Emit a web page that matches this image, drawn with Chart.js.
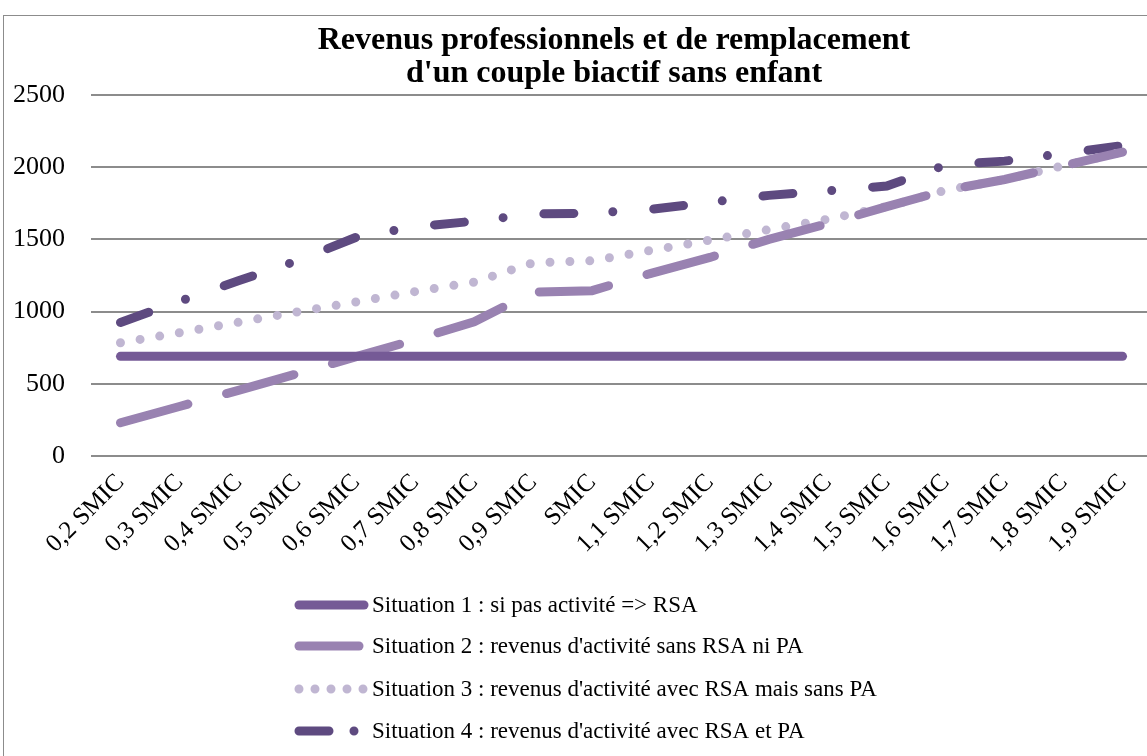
<!DOCTYPE html>
<html>
<head>
<meta charset="utf-8">
<script src="https://cdn.jsdelivr.net/npm/chart.js@4"></script>
<style>
  html, body { margin: 0; padding: 0; background: #fff; overflow: hidden; }
  #wrap { width: 1152px; height: 756px; }
</style>
</head>
<body>
<div id="wrap"><canvas id="chart" width="1152" height="756"></canvas></div>
<script>
// categories and series
var categories = ['0,2 SMIC', '0,3 SMIC', '0,4 SMIC', '0,5 SMIC', '0,6 SMIC', '0,7 SMIC', '0,8 SMIC', '0,9 SMIC', 'SMIC',
                  '1,1 SMIC', '1,2 SMIC', '1,3 SMIC', '1,4 SMIC', '1,5 SMIC', '1,6 SMIC', '1,7 SMIC', '1,8 SMIC', '1,9 SMIC'];
var situation1 = [690, 690, 690, 690, 690, 690, 690, 690, 690, 690, 690, 690, 690, 690, 690, 690, 690, 690];
var situation2 = [230, 343, 455, 570, 688, 805, 930, 1135, 1145, 1265, 1375, 1500, 1609, 1727, 1840, 1915, 2010, 2105];
var situation3 = [784, 854, 926, 998, 1067, 1139, 1204, 1338, 1352, 1424, 1495, 1568, 1640, 1727, 1840, 1915, 2010, 2105];
var situation4 = [925, 1071, 1213, 1352, 1515, 1588, 1626, 1676, 1682, 1708, 1757, 1805, 1836, 1870, 2015, 2042, 2095, 2150];
var yTicks = [0, 500, 1000, 1500, 2000, 2500];
var titleLines = ['Revenus professionnels et de remplacement', "d'un couple biactif sans enfant"];
var seriesNames = [
    'Situation 1 : si pas activité => RSA',
    "Situation 2 : revenus d'activité sans RSA ni PA",
    "Situation 3 : revenus d'activité avec RSA mais sans PA",
    "Situation 4 : revenus d'activité avec RSA et PA"
];

var serif = "'Liberation Serif', 'Times New Roman', serif";

// frame, title and the stacked legend
var decorations = {
    id: 'decorations',
    beforeDraw: function(chart) {
        var ctx = chart.ctx;
        ctx.save();
        ctx.fillStyle = '#fff';
        ctx.fillRect(0, 0, chart.width, chart.height);
        ctx.strokeStyle = '#8c8c8c';
        ctx.lineWidth = 1;
        ctx.strokeRect(3.5, 15.5, 1300, 900);
        ctx.restore();
    },
    afterDraw: function(chart) {
        var ctx = chart.ctx;
        ctx.save();
        ctx.fillStyle = '#000';
        ctx.textAlign = 'center';
        ctx.textBaseline = 'middle';
        ctx.font = 'bold 32px ' + serif;
        ctx.fillText(titleLines[0], 614, 41);
        ctx.fillText(titleLines[1], 614, 74);

        ctx.textAlign = 'left';
        ctx.font = '23px ' + serif;
        var rows = [605, 646, 689, 731];
        chart.data.datasets.forEach(function(ds, i) {
            var y = rows[i];
            ctx.save();
            ctx.strokeStyle = ds.borderColor;
            ctx.lineWidth = ds.borderWidth;
            ctx.lineCap = 'round';
            ctx.setLineDash(ds.legendDash || []);
            ctx.beginPath();
            ctx.moveTo(299, y);
            ctx.lineTo(364, y);
            ctx.stroke();
            ctx.restore();
            ctx.fillText(ds.label, 372, y + 1);
        });
        ctx.restore();
    }
};

new Chart(document.getElementById('chart'), {
    type: 'line',
    data: {
        labels: categories,
        datasets: [
            { label: seriesNames[0], data: situation1, borderColor: '#755a96', borderWidth: 9, borderCapStyle: 'round', legendDash: [] },
            { label: seriesNames[1], data: situation2, borderColor: '#9982b1', borderWidth: 9, borderCapStyle: 'round', borderDash: [70, 40], legendDash: [60, 40] },
            { label: seriesNames[2], data: situation3, borderColor: '#c0b6d2', borderWidth: 9, borderCapStyle: 'round', borderDash: [0, 19.9], legendDash: [0, 16] },
            { label: seriesNames[3], data: situation4, borderColor: '#5e4a80', borderWidth: 9, borderCapStyle: 'round', borderDash: [30, 39, 0, 41], legendDash: [30, 25, 0, 60] }
        ]
    },
    options: {
        responsive: false,
        animation: false,
        layout: { padding: { top: 95, left: 0, right: 0, bottom: 0 } },
        elements: { point: { radius: 0 }, line: { tension: 0 } },
        plugins: {
            legend: { display: false },
            title: { display: false },
            tooltip: { enabled: false }
        },
        scales: {
            x: {
                offset: true,
                grid: { display: false },
                border: { display: false },
                ticks: {
                    autoSkip: false,
                    minRotation: 45,
                    maxRotation: 45,
                    padding: 4,
                    color: '#000',
                    font: { family: serif, size: 25 }
                },
                afterFit: function(scale) { scale.height = 300; }
            },
            y: {
                min: 0,
                max: 2500,
                afterBuildTicks: function(scale) {
                    scale.ticks = yTicks.map(function(v) { return { value: v }; });
                },
                grid: { color: '#8c8c8c', lineWidth: 2, drawTicks: false },
                border: { display: false },
                ticks: {
                    padding: 26,
                    color: '#000',
                    font: { family: serif, size: 26 },
                    callback: function(v) { return String(v); }
                },
                afterFit: function(scale) { scale.width = 91; }
            }
        }
    },
    plugins: [decorations]
});
</script>
</body>
</html>
